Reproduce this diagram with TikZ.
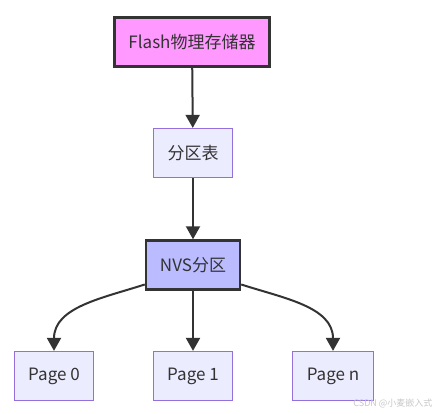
\documentclass[tikz,border=0pt]{standalone}
\usepackage{fontspec}
\setmainfont{Noto Sans CJK SC}
\usepackage{tikz}
\usetikzlibrary{arrows.meta, positioning}
\usepackage{xcolor}
\definecolor{ink}{HTML}{333333}
\definecolor{lilac}{HTML}{9370DB}
\definecolor{paleblue}{HTML}{ECECFF}
\definecolor{pink}{HTML}{FF99FF}
\definecolor{blueish}{HTML}{BBBBFF}

\begin{document}
\begin{tikzpicture}[x=1pt, y=1pt,
    plainbox/.style={draw=lilac, fill=paleblue, line width=1.2pt, minimum height=49pt,
      inner xsep=14pt, text=ink, font=\fontsize{17pt}{19pt}\selectfont},
    keybox/.style={plainbox, draw=ink, line width=2.4pt},
    flow/.style={draw=ink, line width=2pt, -{Triangle[length=13pt, width=14pt]}}]
    \useasboundingbox (0,0) rectangle (439,414);

    \node[keybox, fill=pink] (flash) at (192,372) {Flash物理存储器};
    \node[plainbox] (ptable) at (193,261) {分区表};
    \node[keybox, fill=blueish] (nvs) at (193,149) {NVS分区};
    \node[plainbox] (page0) at (54,38) {Page 0};
    \node[plainbox] (page1) at (193,38) {Page 1};
    \node[plainbox] (pagen) at (333,38) {Page n};

    \draw[flow] (flash) -- (ptable);
    \draw[flow] (ptable) -- (nvs);
    \draw[flow] (nvs.202) to[out=198, in=90] (page0.north);
    \draw[flow] (nvs) -- (page1);
    \draw[flow] (nvs.-22) to[out=-18, in=90] (pagen.north);

    \node[anchor=east, text=black!22, font=\fontsize{9pt}{10pt}\selectfont] (mark) at (436,11) {CSDN @小麦嵌入式};
\end{tikzpicture}
\end{document}
